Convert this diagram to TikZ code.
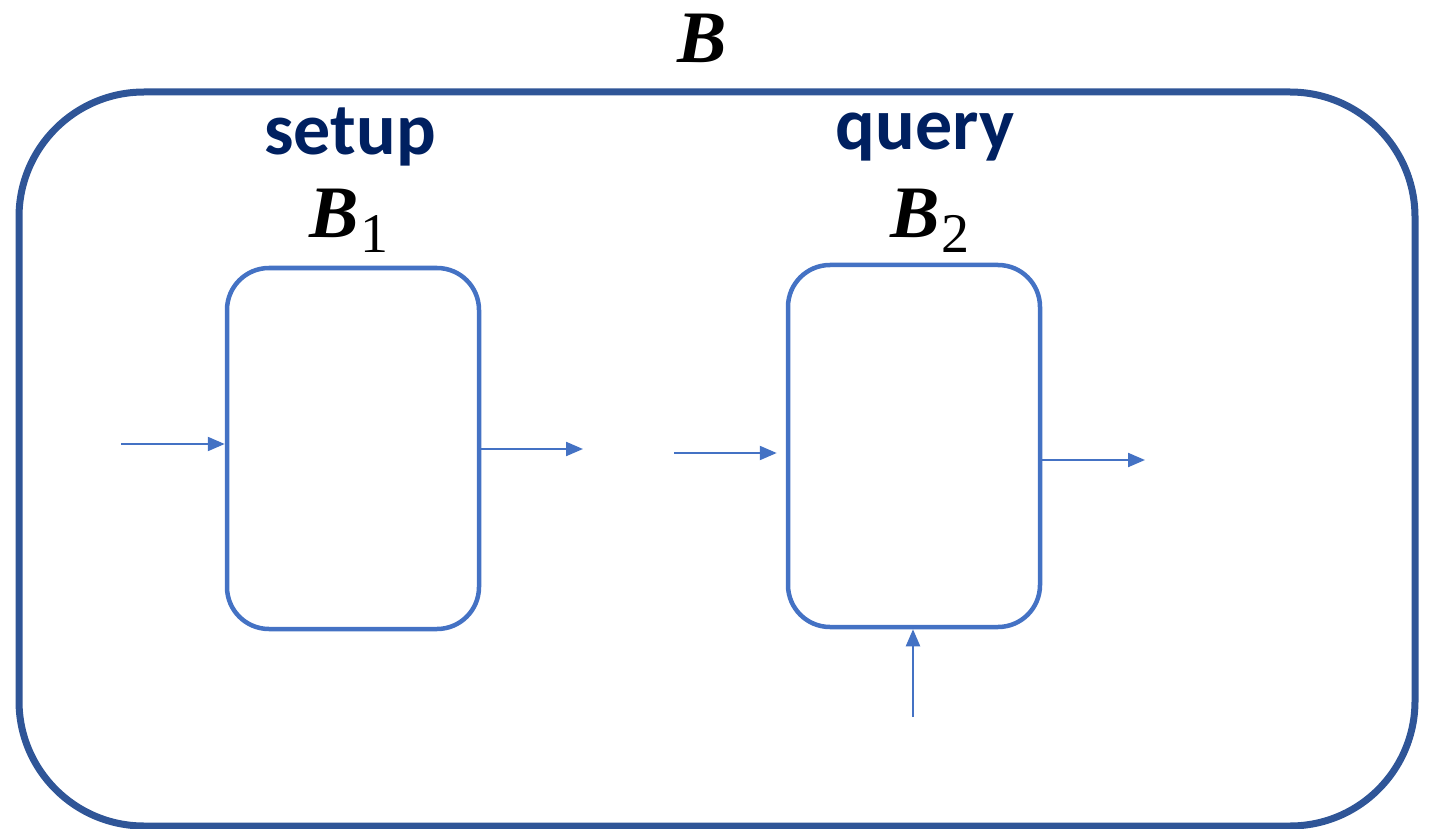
\documentclass[tikz,border=0pt]{standalone}
\usepackage{fontspec}
\setmainfont{Liberation Serif}
\newfontfamily\labelfont{Carlito}
\usetikzlibrary{arrows.meta}
\definecolor{outerblue}{HTML}{2F5597}
\definecolor{innerblue}{HTML}{4472C4}
\definecolor{navy}{HTML}{002060}
\tikzset{
  outerbox/.style={draw=outerblue, line width=7pt, rounded corners=125pt},
  blockbox/.style={draw=innerblue, line width=4.5pt, rounded corners=42pt},
  phase/.style={text=navy, font=\labelfont\bfseries\fontsize{74}{80}\selectfont},
  mathlbl/.style={font=\fontsize{74}{80}\selectfont, inner sep=0pt},
  flow/.style={draw=innerblue, line width=2.2pt, -{Triangle[length=17pt,width=14pt]}},
}
\newcommand{\blk}[1]{\textbf{\textit{B}}\kern1pt\raisebox{-16pt}{\fontsize{56}{60}\selectfont #1}}
\begin{document}
\begin{tikzpicture}[x=1pt,y=-1pt]
  \useasboundingbox (0,0) rectangle (1430,829);
  % enclosing system B
  \draw[outerbox] (19,92) rectangle (1415,826);
  \node[mathlbl] (bname) at (702,38) {\textbf{\textit{B}}};
  % phase labels
  \node[phase] (setup) at (350,137) {setup};
  \node[phase] (query) at (925,137) {query};
  \node[mathlbl, anchor=base] (b1name) at (349,237) {\blk{1}};
  \node[mathlbl, anchor=base] (b2name) at (930,237) {\blk{2}};
  % sub-blocks
  \node[blockbox, minimum width=252pt, minimum height=361pt] (b1) at (353,448.5) {};
  \node[blockbox, minimum width=252pt, minimum height=362pt] (b2) at (914,446) {};
  % free ends of the connectors
  \coordinate (in1) at (121,444);
  \coordinate (out1) at (583,449);
  \coordinate (in2) at (674,453);
  \coordinate (out2) at (1145,460);
  \coordinate (aux2) at (913,717);
  % connectors
  \draw[flow] (in1) -- (in1 -| b1.west);
  \draw[flow] (out1 -| b1.east) -- (out1);
  \draw[flow, shorten >=9pt] (in2) -- (in2 -| b2.west);
  \draw[flow] (out2 -| b2.east) -- (out2);
  \draw[flow] (aux2) -- (aux2 |- b2.south);
\end{tikzpicture}
\end{document}
